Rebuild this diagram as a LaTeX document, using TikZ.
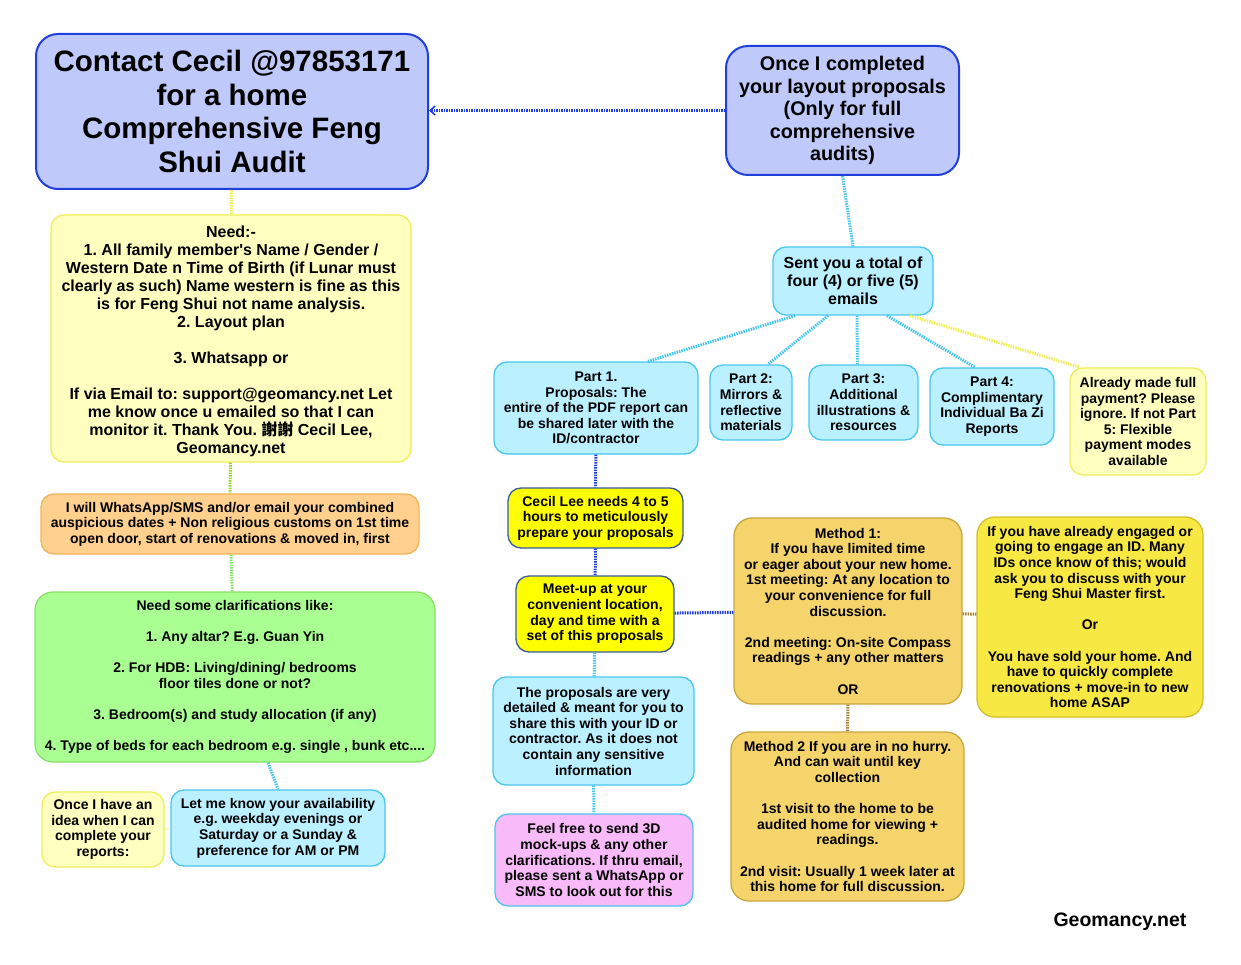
\documentclass[tikz,border=0pt]{standalone}
\usepackage{fontspec}
\setmainfont{Liberation Sans}
\newfontfamily\cjk{Noto Sans CJK TC}
\usepackage{xcolor}
\usetikzlibrary{arrows.meta, positioning}

\definecolor{lavfill}{HTML}{BFCAFB}
\definecolor{lavdraw}{HTML}{1E3FDC}
\definecolor{lemfill}{HTML}{FFFFC0}
\definecolor{lemdraw}{HTML}{EEEE5A}
\definecolor{orafill}{HTML}{FFD08E}
\definecolor{oradraw}{HTML}{F2B45A}
\definecolor{grnfill}{HTML}{AAFF92}
\definecolor{grndraw}{HTML}{86E06A}
\definecolor{cyafill}{HTML}{BAF0FF}
\definecolor{cyadraw}{HTML}{48C6F0}
\definecolor{yelfill}{HTML}{FFFF00}
\definecolor{yeldraw}{HTML}{3A5A9A}
\definecolor{pnkfill}{HTML}{F8BAF8}
\definecolor{golfill}{HTML}{F5D46C}
\definecolor{goldraw}{HTML}{C9A63C}
\definecolor{sunfill}{HTML}{F8E844}
\definecolor{sundraw}{HTML}{D2BE2A}
\definecolor{goldline}{HTML}{A08434}

\begin{document}
\frenchspacing
\begin{tikzpicture}[x=1pt,y=-1pt,
        box/.style={draw,rounded corners=13pt,align=center,inner sep=0pt,line width=1.3pt,
            font=\bfseries\fontsize{14}{15.6}\selectfont},
        bigbox/.style={box,rounded corners=22pt,draw=lavdraw,fill=lavfill,line width=2pt},
        lembox/.style={box,draw=lemdraw,fill=lemfill},
        cyabox/.style={box,draw=cyadraw,fill=cyafill},
        yelbox/.style={box,draw=yeldraw,fill=yelfill},
        golbox/.style={box,draw=goldraw,fill=golfill},
        link/.style={line width=3pt,dash pattern=on 1.5pt off 1pt},
        >={Straight Barb[length=5pt,width=9pt,line width=1.6pt]}]

        \useasboundingbox (0,0) rectangle (1241,965);

        % left column
        \node[bigbox,minimum width=392pt,minimum height=155pt,
            font=\bfseries\fontsize{29.5}{33.4}\selectfont] (contact) at (232,111.5)
            {Contact Cecil @97853171\\for a home\\Comprehensive Feng\\Shui Audit};
        \node[lembox,minimum width=360pt,minimum height=247pt,
            font=\bfseries\fontsize{16}{18}\selectfont] (need) at (231,338.5)
            {\rule{0pt}{17pt}Need:-\\1. All family member\textquotesingle s Name / Gender /\\Western Date n Time of Birth (if Lunar must\\clearly as such) Name western is fine as this\\is for Feng Shui not name analysis.\\2. Layout plan\\[18pt]3. Whatsapp or\\[18pt]If via Email to: support@geomancy.net Let\\me know once u emailed so that I can\\monitor it. Thank You. {\cjk 謝謝} Cecil Lee,\\Geomancy.net};
        \node[box,draw=oradraw,fill=orafill,minimum width=378pt,minimum height=60pt] (dates) at (230,524)
            {I will WhatsApp/SMS and/or email your combined\\auspicious dates + Non religious customs on 1st time\\open door, start of renovations \& moved in, first};
        \node[box,rounded corners=18pt,draw=grndraw,fill=grnfill,minimum width=400pt,minimum height=170pt] (clarify) at (235,677)
            {Need some clarifications like:\\[15.6pt]1. Any altar? E.g. Guan Yin\\[15.6pt]2. For HDB: Living/dining/ bedrooms\\floor tiles done or not?\\[15.6pt]3. Bedroom(s) and study allocation (if any)\\[15.6pt]4. Type of beds for each bedroom e.g. single , bunk etc....};
        \node[lembox,minimum width=122pt,minimum height=75pt] (idea) at (103,829.5)
            {Once I have an\\idea when I can\\complete your\\reports:};
        \node[cyabox,minimum width=214pt,minimum height=76pt] (avail) at (278,828)
            {Let me know your availability\\e.g. weekday evenings or\\Saturday or a Sunday \&\\preference for AM or PM};

        % right part
        \node[bigbox,minimum width=233pt,minimum height=129pt,
            font=\bfseries\fontsize{19.8}{22.4}\selectfont] (layout) at (842.5,110.5)
            {Once I completed\\your layout proposals\\(Only for full\\comprehensive\\audits)};
        \node[cyabox,minimum width=160pt,minimum height=68pt,
            font=\bfseries\fontsize{16}{18}\selectfont] (emails) at (853,281)
            {Sent you a total of\\four (4) or five (5)\\emails};
        \node[cyabox,minimum width=204pt,minimum height=92pt] (part1) at (596,408)
            {Part 1.\\Proposals: The\\entire of the PDF report can\\be shared later with the\\ID/contractor};
        \node[cyabox,minimum width=82pt,minimum height=75pt] (part2) at (751,402.5)
            {Part 2:\\Mirrors \&\\reflective\\materials};
        \node[cyabox,minimum width=109pt,minimum height=75pt] (part3) at (863.5,402.5)
            {Part 3:\\Additional\\illustrations \&\\resources};
        \node[cyabox,minimum width=124pt,minimum height=77pt] (part4) at (992,406.5)
            {Part 4:\\Complimentary\\Individual Ba Zi\\Reports};
        \node[lembox,minimum width=136pt,minimum height=107pt] (paid) at (1138,421.5)
            {Already made full\\payment? Please\\ignore. If not Part\\5: Flexible\\payment modes\\available};
        \node[yelbox,minimum width=175pt,minimum height=60pt] (hours) at (595.5,518)
            {Cecil Lee needs 4 to 5\\hours to meticulously\\prepare your proposals};
        \node[yelbox,minimum width=158pt,minimum height=76pt] (meetup) at (595,614)
            {Meet-up at your\\convenient location,\\day and time with a\\set of this proposals};
        \node[cyabox,minimum width=201pt,minimum height=108pt] (detail) at (593.5,731)
            {The proposals are very\\detailed \& meant for you to\\share this with your ID or\\contractor. As it does not\\contain any sensitive\\information};
        \node[box,draw=cyadraw,fill=pnkfill,minimum width=198pt,minimum height=92pt] (mockup) at (594,860)
            {Feel free to send 3D\\mock-ups \& any other\\clarifications. If thru email,\\please sent a WhatsApp or\\SMS to look out for this};
        \node[golbox,rounded corners=18pt,minimum width=228pt,minimum height=186pt] (method1) at (848,611)
            {Method 1:\\If you have limited time\\or eager about your new home.\\1st meeting: At any location to\\your convenience for full\\discussion.\\[15.6pt]2nd meeting: On-site Compass\\readings + any other matters\\[15.6pt]OR};
        \node[box,rounded corners=18pt,draw=sundraw,fill=sunfill,minimum width=226pt,minimum height=200pt] (engaged) at (1090,617)
            {If you have already engaged or\\going to engage an ID. Many\\IDs once know of this; would\\ask you to discuss with your\\Feng Shui Master first.\\[15.6pt]Or\\[15.6pt]You have sold your home. And\\have to quickly complete\\renovations + move-in to new\\home ASAP};
        \node[golbox,rounded corners=18pt,minimum width=233pt,minimum height=169pt] (method2) at (847.5,816.5)
            {Method 2 If you are in no hurry.\\And can wait until key\\collection\\[15.6pt]1st visit to the home to be\\audited home for viewing +\\readings.\\[15.6pt]2nd visit: Usually 1 week later at\\this home for full discussion.};

        \node[font=\bfseries\fontsize{19.5}{22}\selectfont] (site) at (1120,922) {Geomancy.net};

        % connectors
        \draw[link,lavdraw,->] (layout) -- (layout.west -| contact.east);
        \path[link,lemdraw] (contact) edge (need);
        \path[link,yellow!60!green] (need) edge (dates);
        \path[link,grndraw] (dates) edge (clarify);
        \path[link,cyadraw] ([xshift=33pt]clarify.south) edge (avail.north);
        \path[link,lemdraw,line width=1pt] (idea) edge (avail);
        \path[link,cyadraw] (layout.south) edge (emails.north);
        \path[link,cyadraw] ([xshift=-58pt]emails.south) edge ([xshift=52pt]part1.north)
            ([xshift=-25pt]emails.south) edge ([xshift=17pt]part2.north)
            ([xshift=4pt]emails.south) edge ([xshift=-6pt]part3.north)
            ([xshift=34pt]emails.south) edge ([xshift=-17pt]part4.north);
        \path[link,lemdraw] ([xshift=57pt]emails.south) edge ([xshift=-58pt]paid.north);
        \path[link,lavdraw] (part1) edge (hours)
            (hours) edge (meetup)
            (meetup) edge (method1);
        \path[link,cyadraw] (meetup) edge (detail)
            (detail) edge (mockup);
        \path[link,goldline] (method1) edge (engaged)
            (method1) edge (method2);
    \end{tikzpicture}
\end{document}
